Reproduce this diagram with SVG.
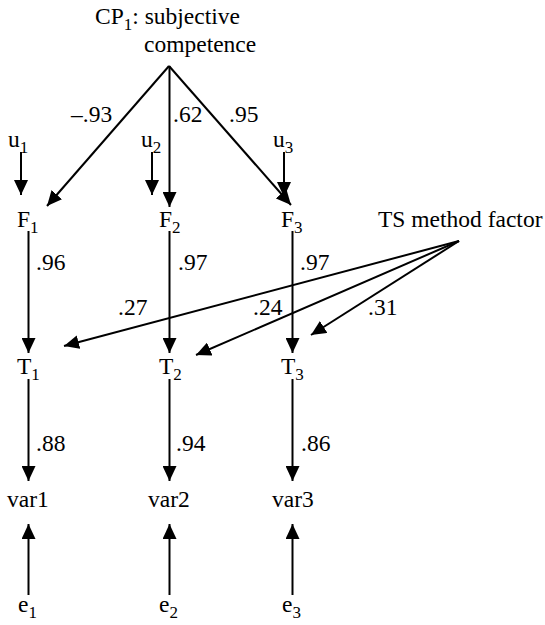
<svg xmlns="http://www.w3.org/2000/svg" width="545" height="625" viewBox="0 0 545 625">
<style>
text{font-family:"Liberation Serif","Times New Roman",serif;font-size:23.5px;fill:#000}
.s{font-size:17px}
.c line{stroke:#000;stroke-width:2;marker-end:url(#ah)}
</style>
<defs>
<marker id="ah" markerUnits="userSpaceOnUse" markerWidth="16" markerHeight="14" refX="15" refY="7" orient="auto">
<path d="M0,0 L15,7 L0,14 z" fill="#000"/>
</marker>
</defs>
<rect width="545" height="625" fill="#fff"/>
<g id="CP1"><text x="95" y="24">CP<tspan class="s" dy="6">1</tspan><tspan dy="-6">: subjective</tspan></text><text x="144" y="52">competence</text></g>
<g id="TS"><text x="378" y="227">TS method factor</text></g>
<g id="u1"><text x="8" y="147">u<tspan class="s" dy="6">1</tspan></text></g>
<g id="u2"><text x="141" y="147">u<tspan class="s" dy="6">2</tspan></text></g>
<g id="u3"><text x="273" y="147">u<tspan class="s" dy="6">3</tspan></text></g>
<g id="F1"><text x="17" y="227">F<tspan class="s" dy="6">1</tspan></text></g>
<g id="F2"><text x="159" y="227">F<tspan class="s" dy="6">2</tspan></text></g>
<g id="F3"><text x="281" y="227">F<tspan class="s" dy="6">3</tspan></text></g>
<g id="T1"><text x="17" y="374">T<tspan class="s" dy="6">1</tspan></text></g>
<g id="T2"><text x="159" y="374">T<tspan class="s" dy="6">2</tspan></text></g>
<g id="T3"><text x="281" y="374">T<tspan class="s" dy="6">3</tspan></text></g>
<g id="var1"><text x="7" y="507">var1</text></g>
<g id="var2"><text x="148" y="507">var2</text></g>
<g id="var3"><text x="272" y="507">var3</text></g>
<g id="e1"><text x="18" y="612">e<tspan class="s" dy="6">1</tspan></text></g>
<g id="e2"><text x="159" y="612">e<tspan class="s" dy="6">2</tspan></text></g>
<g id="e3"><text x="282" y="612">e<tspan class="s" dy="6">3</tspan></text></g>
<g id="connectors" class="c">
<line x1="169" y1="66" x2="47" y2="206"/>
<line x1="169.5" y1="66" x2="169.5" y2="207"/>
<line x1="169" y1="66" x2="291" y2="205"/>
<line x1="21" y1="152" x2="21" y2="195"/>
<line x1="152" y1="152" x2="152" y2="195"/>
<line x1="284" y1="152" x2="284" y2="197"/>
<line x1="28.5" y1="231" x2="28.5" y2="353"/>
<line x1="169.5" y1="231" x2="169.5" y2="353"/>
<line x1="292.5" y1="231" x2="292.5" y2="353"/>
<line x1="459" y1="241" x2="64" y2="346"/>
<line x1="459" y1="241" x2="196" y2="355"/>
<line x1="459" y1="241" x2="311" y2="335"/>
<line x1="28.5" y1="379" x2="28.5" y2="481"/>
<line x1="169.5" y1="379" x2="169.5" y2="481"/>
<line x1="292.5" y1="379" x2="292.5" y2="481"/>
<line x1="28.5" y1="595" x2="28.5" y2="524"/>
<line x1="169.5" y1="595" x2="169.5" y2="524"/>
<line x1="292.5" y1="595" x2="292.5" y2="524"/>
</g>
<g id="labels">
<text x="71" y="122">–.93</text>
<text x="173" y="122">.62</text>
<text x="229" y="122">.95</text>
<text x="36" y="270">.96</text>
<text x="178" y="270">.97</text>
<text x="300" y="270">.97</text>
<text x="118" y="315">.27</text>
<text x="253" y="315">.24</text>
<text x="368" y="315">.31</text>
<text x="36" y="451">.88</text>
<text x="176" y="451">.94</text>
<text x="301" y="451">.86</text>
</g>
</svg>
